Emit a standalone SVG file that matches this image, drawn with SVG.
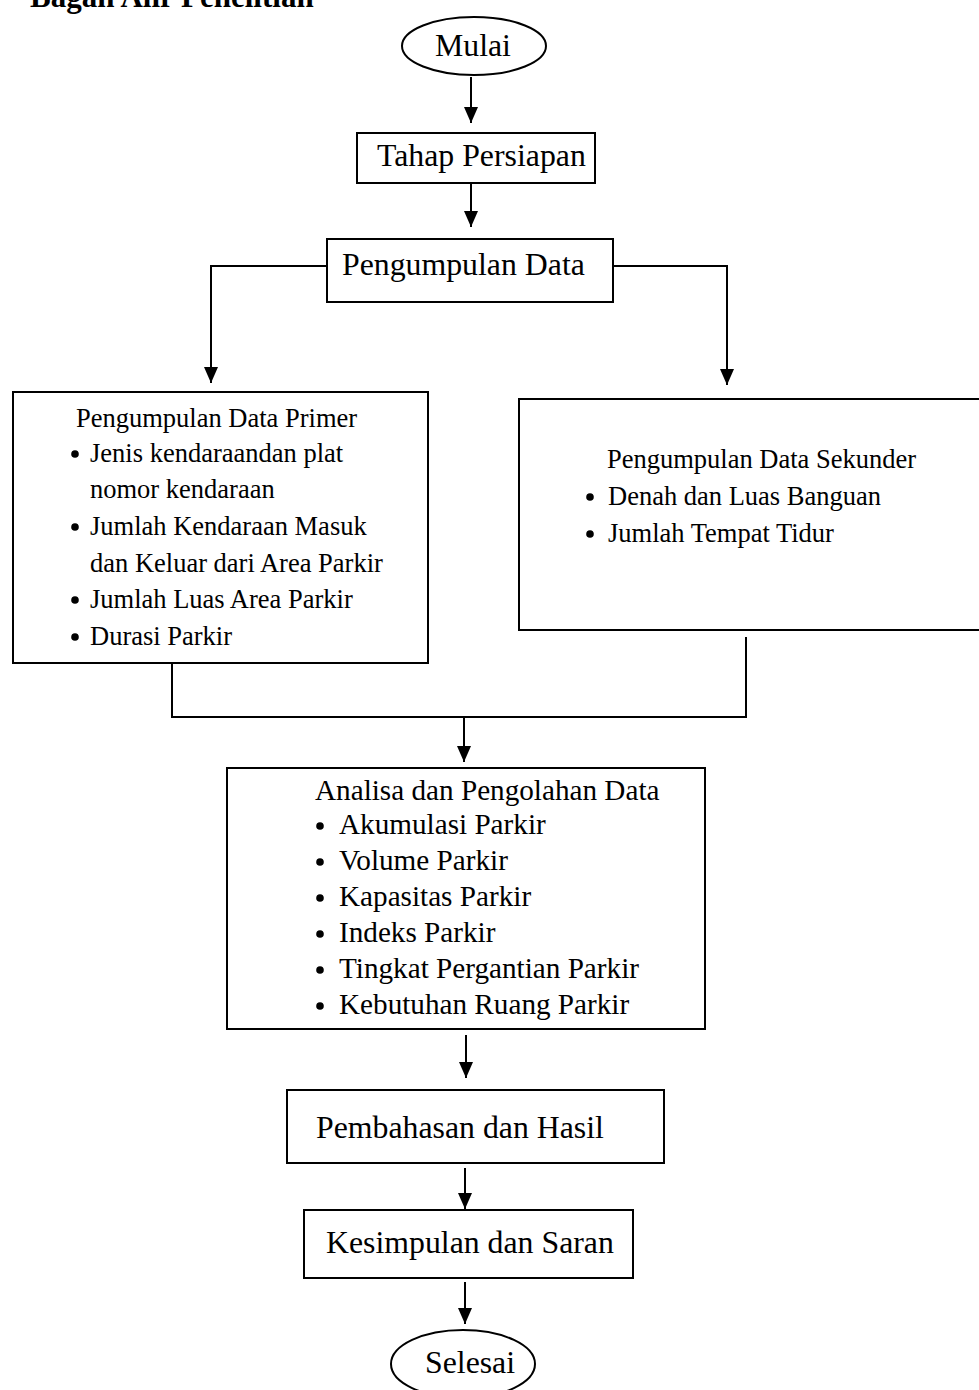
<svg xmlns="http://www.w3.org/2000/svg" width="979" height="1390" viewBox="0 0 979 1390">
<defs>
<style>
.box{fill:#fff;stroke:#000;stroke-width:2}
.ln{fill:none;stroke:#000;stroke-width:2}
text{font-family:"Liberation Serif","Times New Roman",serif;fill:#000}
.big{font-size:31.8px}
.mid{font-size:26.5px}
.ana{font-size:29.2px}
</style>
<marker id="ah" viewBox="0 0 16 14" refX="16" refY="7" markerWidth="16" markerHeight="14" markerUnits="userSpaceOnUse" orient="auto">
<path d="M0,0 L16,7 L0,14 z" fill="#000"/>
</marker>
</defs>
<rect width="979" height="1390" fill="#fff"/>
<text x="30" y="7" style="font-size:31px;font-weight:bold">Bagan Alir Penelitian</text>

<g id="connectors">
<line class="ln" x1="471" y1="77" x2="471" y2="123" marker-end="url(#ah)"/>
<line class="ln" x1="471" y1="184" x2="471" y2="227" marker-end="url(#ah)"/>
<path class="ln" d="M327,266 H211 V383" marker-end="url(#ah)"/>
<path class="ln" d="M613,266 H727 V385" marker-end="url(#ah)"/>
<path class="ln" d="M172,663 V717 H746 V637"/>
<line class="ln" x1="464" y1="717" x2="464" y2="762" marker-end="url(#ah)"/>
<line class="ln" x1="466" y1="1035" x2="466" y2="1078" marker-end="url(#ah)"/>
<line class="ln" x1="465" y1="1168" x2="465" y2="1209" marker-end="url(#ah)"/>
<line class="ln" x1="465" y1="1282" x2="465" y2="1324" marker-end="url(#ah)"/>
</g>

<g id="mulai">
<ellipse class="box" cx="474" cy="46" rx="72" ry="29"/>
<text class="big" x="435" y="56">Mulai</text>
</g>

<g id="tahap-persiapan">
<rect class="box" x="357" y="133" width="238" height="50"/>
<text class="big" x="377" y="166">Tahap Persiapan</text>
</g>

<g id="pengumpulan-data">
<rect class="box" x="327" y="239" width="286" height="63"/>
<text class="big" x="342" y="275">Pengumpulan Data</text>
</g>

<g id="data-primer">
<rect class="box" x="13" y="392" width="415" height="271"/>
<text class="mid" x="76" y="427">Pengumpulan Data Primer</text>
<g>
<circle cx="75" cy="454" r="3.8"/>
<circle cx="75" cy="527" r="3.8"/>
<circle cx="75" cy="600" r="3.8"/>
<circle cx="75" cy="637" r="3.8"/>
</g>
<text class="mid" x="90" y="462">Jenis kendaraandan plat</text>
<text class="mid" x="90" y="498">nomor kendaraan</text>
<text class="mid" x="90" y="535">Jumlah Kendaraan Masuk</text>
<text class="mid" x="90" y="572">dan Keluar dari Area Parkir</text>
<text class="mid" x="90" y="608">Jumlah Luas Area Parkir</text>
<text class="mid" x="90" y="645">Durasi Parkir</text>
</g>

<g id="data-sekunder">
<rect class="box" x="519" y="399" width="470" height="231"/>
<text class="mid" x="607" y="468">Pengumpulan Data Sekunder</text>
<circle cx="590" cy="497" r="3.8"/>
<circle cx="590" cy="534" r="3.8"/>
<text class="mid" x="608" y="505">Denah dan Luas Banguan</text>
<text class="mid" x="608" y="542">Jumlah Tempat Tidur</text>
</g>

<g id="analisa">
<rect class="box" x="227" y="768" width="478" height="261"/>
<text class="ana" x="315" y="800">Analisa dan Pengolahan Data</text>
<circle cx="320" cy="826" r="3.8"/>
<circle cx="320" cy="862" r="3.8"/>
<circle cx="320" cy="898" r="3.8"/>
<circle cx="320" cy="934" r="3.8"/>
<circle cx="320" cy="970" r="3.8"/>
<circle cx="320" cy="1006" r="3.8"/>
<text class="ana" x="339" y="834">Akumulasi Parkir</text>
<text class="ana" x="339" y="870">Volume Parkir</text>
<text class="ana" x="339" y="906">Kapasitas Parkir</text>
<text class="ana" x="339" y="942">Indeks Parkir</text>
<text class="ana" x="339" y="978">Tingkat Pergantian Parkir</text>
<text class="ana" x="339" y="1014">Kebutuhan Ruang Parkir</text>
</g>

<g id="pembahasan">
<rect class="box" x="287" y="1090" width="377" height="73"/>
<text class="big" x="316" y="1138">Pembahasan dan Hasil</text>
</g>

<g id="kesimpulan">
<rect class="box" x="304" y="1210" width="329" height="68"/>
<text class="big" x="326" y="1253">Kesimpulan dan Saran</text>
</g>

<g id="selesai">
<ellipse class="box" cx="463" cy="1364" rx="72" ry="34"/>
<text class="big" x="425" y="1373">Selesai</text>
</g>
</svg>
